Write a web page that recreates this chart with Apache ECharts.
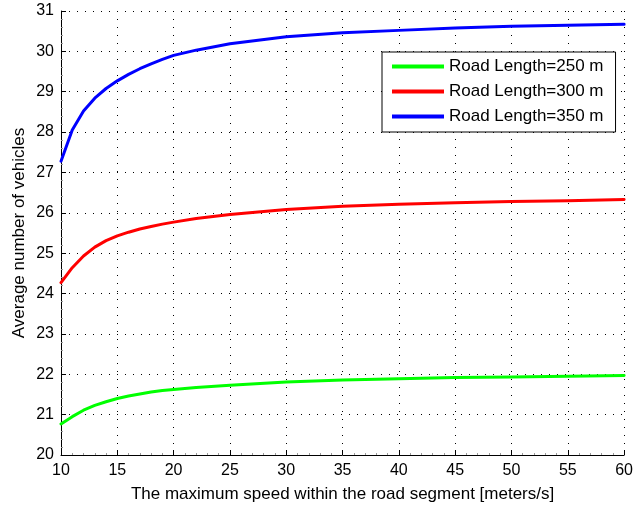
<!DOCTYPE html>
<html>
<head>
<meta charset="utf-8">
<script src="https://cdn.jsdelivr.net/npm/echarts@6/dist/echarts.min.js"></script>
<style>
  html, body { margin: 0; padding: 0; background: #fff; }
  #chart { width: 636px; height: 508px; }
</style>
</head>
<body>
<div id="chart"></div>
<script>
// Maximum speed (m/s) at which the averages were evaluated
const speeds = [10, 11, 12, 13, 14, 15, 16, 17, 18, 19, 20, 22, 25, 30, 35, 40, 45, 50, 55, 60];

// Average number of vehicles for each road length
const road250 = [20.77, 20.95, 21.11, 21.23, 21.32, 21.40, 21.46, 21.51, 21.56, 21.60, 21.62, 21.67, 21.73, 21.81, 21.86, 21.89, 21.92, 21.93, 21.95, 21.97];
const road300 = [24.27, 24.64, 24.93, 25.15, 25.31, 25.43, 25.52, 25.60, 25.66, 25.72, 25.77, 25.86, 25.96, 26.08, 26.16, 26.21, 26.25, 26.28, 26.30, 26.33];
const road350 = [27.28, 28.05, 28.52, 28.84, 29.08, 29.27, 29.43, 29.57, 29.69, 29.80, 29.90, 30.03, 30.19, 30.36, 30.46, 30.52, 30.58, 30.62, 30.65, 30.67];

const seriesNames = ['Road Length=250 m', 'Road Length=300 m', 'Road Length=350 m'];
const seriesColors = ['#00ff00', '#ff0000', '#0000ff'];
const seriesValues = [road250, road300, road350];

const font = 'Liberation Sans, Arial, Helvetica, sans-serif';

const chart = echarts.init(document.getElementById('chart'), null, { renderer: 'canvas' });

const gridDots = { color: '#000', width: 1, type: [1, 7] };

chart.setOption({
  animation: false,
  backgroundColor: '#fff',
  grid: { left: 61, top: 11, right: 9, bottom: 52, containLabel: false },
  legend: {
    left: 382,
    top: 52,
    orient: 'vertical',
    backgroundColor: '#fff',
    borderColor: '#000',
    borderWidth: 1,
    borderRadius: 0,
    padding: [5, 12, 6, 10],
    itemWidth: 52,
    itemHeight: 4,
    itemGap: 6,
    icon: 'rect',
    textStyle: { fontFamily: font, fontSize: 17, color: '#000', lineHeight: 19 },
    data: seriesNames
  },
  xAxis: {
    type: 'value',
    min: 10,
    max: 60,
    interval: 5,
    name: 'The maximum speed within the road segment [meters/s]',
    nameLocation: 'middle',
    nameGap: 31,
    nameMoveOverlap: false,
    nameTextStyle: { fontFamily: font, fontSize: 17, color: '#000' },
    axisLine: { show: true, onZero: false, lineStyle: { color: '#000', width: 1 } },
    axisTick: { show: true, inside: true, length: 5, lineStyle: { color: '#000' } },
    minorTick: { show: true, splitNumber: 5, length: 2, lineStyle: { color: '#999' } },
    axisLabel: { fontFamily: font, fontSize: 16, color: '#000', margin: 8 },
    splitLine: { show: true, lineStyle: gridDots }
  },
  yAxis: {
    type: 'value',
    min: 20,
    max: 31,
    interval: 1,
    name: 'Average number of vehicles',
    nameLocation: 'middle',
    nameGap: 33,
    nameMoveOverlap: false,
    nameRotate: 90,
    nameTextStyle: { fontFamily: font, fontSize: 17, color: '#000' },
    axisLine: { show: true, onZero: false, lineStyle: { color: '#000', width: 1 } },
    axisTick: { show: true, inside: true, length: 5, lineStyle: { color: '#000' } },
    minorTick: { show: true, splitNumber: 5, length: 2, lineStyle: { color: '#999' } },
    axisLabel: { fontFamily: font, fontSize: 16, color: '#000', margin: 7 },
    splitLine: { show: true, lineStyle: gridDots }
  },
  series: seriesNames.map((name, i) => ({
    name: name,
    type: 'line',
    data: speeds.map((s, j) => [s, seriesValues[i][j]]),
    showSymbol: false,
    smooth: false,
    color: seriesColors[i],
    lineStyle: { color: seriesColors[i], width: 3, join: 'round', cap: 'round' }
  }))
});
</script>
</body>
</html>
